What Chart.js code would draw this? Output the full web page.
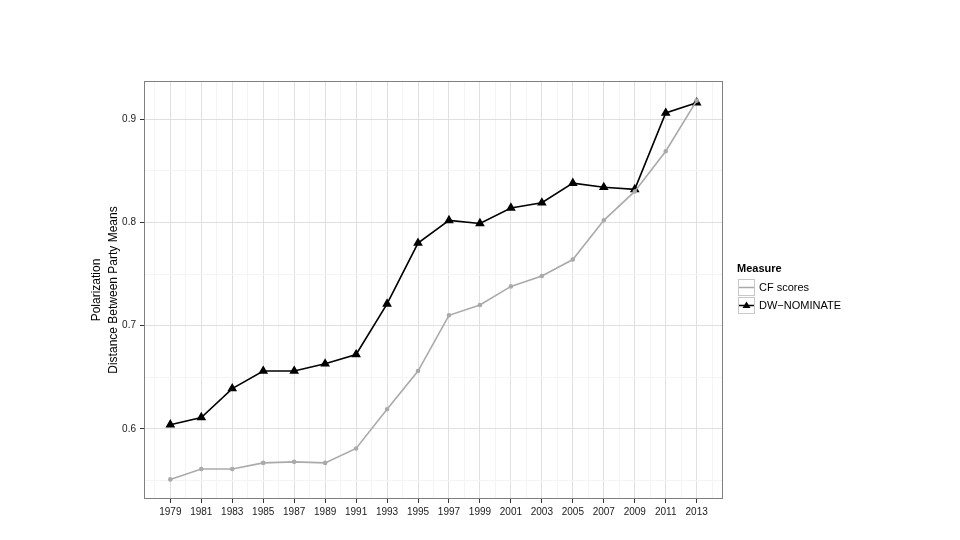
<!DOCTYPE html>
<html>
<head>
<meta charset="utf-8">
<script src="https://cdn.jsdelivr.net/npm/chart.js@4.4.0/dist/chart.umd.min.js"></script>
<style>
  html, body { margin: 0; padding: 0; background: #fff; }
  #wrap { position: relative; width: 960px; height: 540px; }
</style>
</head>
<body>
<div id="wrap"><canvas id="polarCanvas" width="960" height="540"></canvas></div>
<script>
const years = [1979, 1981, 1983, 1985, 1987, 1989, 1991, 1993, 1995, 1997, 1999, 2001, 2003, 2005, 2007, 2009, 2011, 2013];
const cfScores = [0.551, 0.561, 0.561, 0.567, 0.568, 0.567, 0.581, 0.619, 0.656, 0.710, 0.720, 0.738, 0.748, 0.764, 0.802, 0.830, 0.869, 0.918];
const dwNominate = [0.604, 0.611, 0.639, 0.656, 0.656, 0.663, 0.672, 0.721, 0.780, 0.802, 0.799, 0.814, 0.819, 0.838, 0.834, 0.832, 0.906, 0.916];
const yTicks = [0.6, 0.7, 0.8, 0.9];

const FONT = "'Liberation Sans', Arial, sans-serif";

// frame around the panel plus the ggplot-style legend
const panelPlugin = {
    id: 'panel',
    beforeDraw(chart) {
        const ctx = chart.ctx;
        ctx.save();
        ctx.fillStyle = '#ffffff';
        ctx.fillRect(0, 0, chart.width, chart.height);
        ctx.restore();
    },
    afterDraw(chart) {
        const {ctx, chartArea: a} = chart;
        ctx.save();
        ctx.strokeStyle = '#808080';
        ctx.lineWidth = 1;
        ctx.strokeRect(a.left + 0.5, a.top + 0.5, a.right - a.left - 1, a.bottom - a.top - 1);

        // legend
        const lx = 737, ly = 269;
        ctx.fillStyle = '#000';
        ctx.font = 'bold 11px ' + FONT;
        ctx.textBaseline = 'middle';
        ctx.fillText('Measure', lx, ly);
        const items = [
            {label: 'CF scores', color: '#aaaaaa', tri: false},
            {label: 'DW\u2212NOMINATE', color: '#000000', tri: true}
        ];
        items.forEach((it, i) => {
            const top = 279 + i * 18;
            ctx.fillStyle = '#ffffff';
            ctx.fillRect(lx + 1, top, 17, 17);
            ctx.strokeStyle = '#c8c8c8';
            ctx.strokeRect(lx + 1.5, top + 0.5, 16, 16);
            ctx.strokeStyle = it.color;
            ctx.lineWidth = 1.5;
            ctx.beginPath();
            ctx.moveTo(lx + 2, top + 8.5);
            ctx.lineTo(lx + 17, top + 8.5);
            ctx.stroke();
            if (it.tri) {
                ctx.fillStyle = it.color;
                ctx.beginPath();
                ctx.moveTo(lx + 9.5, top + 4.5);
                ctx.lineTo(lx + 13.5, top + 11);
                ctx.lineTo(lx + 5.5, top + 11);
                ctx.closePath();
                ctx.fill();
            }
            ctx.lineWidth = 1;
            ctx.fillStyle = '#000';
            ctx.font = '11px ' + FONT;
            ctx.fillText(it.label, lx + 22, top + 9);
        });
        ctx.restore();
    }
};

const allYears = [];
for (let y = 1978; y <= 2014; y++) allYears.push(y);

const polarChart = new Chart(document.getElementById('polarCanvas'), {
    type: 'line',
    data: {
        datasets: [
            {
                label: 'CF scores',
                data: years.map((y, i) => ({x: y, y: cfScores[i]})),
                borderColor: '#aaaaaa',
                backgroundColor: '#aaaaaa',
                borderWidth: 1.6,
                pointRadius: 1.5,
                pointStyle: 'circle',
                tension: 0
            },
            {
                label: 'DW-NOMINATE',
                data: years.map((y, i) => ({x: y, y: dwNominate[i]})),
                borderColor: '#000000',
                backgroundColor: '#000000',
                borderWidth: 1.6,
                pointRadius: 4,
                pointStyle: 'triangle',
                tension: 0
            }
        ]
    },
    options: {
        responsive: false,
        animation: false,
        layout: {padding: {top: 81, right: 237, left: 88, bottom: 0}},
        plugins: {legend: {display: false}, tooltip: {enabled: false}},
        scales: {
            x: {
                type: 'linear',
                min: 1977.3,
                max: 2014.7,
                afterBuildTicks: (scale) => {
                    scale.ticks = allYears.map(v => ({value: v}));
                },
                afterFit: (scale) => { scale.height = 41; },
                ticks: {
                    autoSkip: false,
                    maxRotation: 0,
                    padding: 3,
                    color: '#1a1a1a',
                    font: {family: FONT, size: 10},
                    callback: (v) => (v % 2 === 1 ? String(v) : '')
                },
                grid: {
                    color: (c) => (c.tick && c.tick.value % 2 === 1 ? '#e0e0e0' : '#f4f4f4'),
                    tickColor: (c) => (c.tick && c.tick.value % 2 === 1 ? '#333333' : 'rgba(0,0,0,0)'),
                    tickLength: 4
                },
                border: {display: false}
            },
            y: {
                min: 0.532,
                max: 0.937,
                afterBuildTicks: (scale) => {
                    scale.ticks = [0.55, 0.6, 0.65, 0.7, 0.75, 0.8, 0.85, 0.9].map(v => ({value: v}));
                },
                afterFit: (scale) => { scale.width = 56; },
                ticks: {
                    padding: 4,
                    color: '#1a1a1a',
                    font: {family: FONT, size: 10},
                    callback: (v) => {
                        const t = yTicks.find(k => Math.abs(k - v) < 1e-6);
                        return t !== undefined ? t.toFixed(1) : '';
                    }
                },
                grid: {
                    color: (c) => (c.tick && yTicks.some(k => Math.abs(k - c.tick.value) < 1e-6) ? '#e0e0e0' : '#f4f4f4'),
                    tickColor: (c) => (c.tick && yTicks.some(k => Math.abs(k - c.tick.value) < 1e-6) ? '#333333' : 'rgba(0,0,0,0)'),
                    tickLength: 4
                },
                border: {display: false},
                title: {
                    display: true,
                    text: ['Polarization', 'Distance Between Party Means'],
                    color: '#000',
                    font: {family: FONT, size: 12, lineHeight: 1.45},
                    padding: {top: 0, bottom: 0}
                }
            }
        }
    },
    plugins: [panelPlugin]
});
</script>
</body>
</html>
